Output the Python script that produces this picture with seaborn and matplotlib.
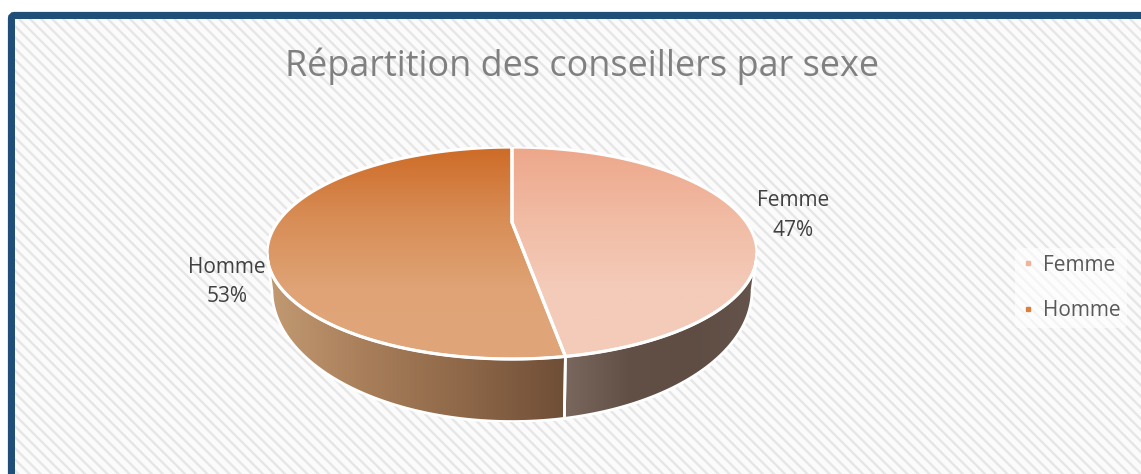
import numpy as np
import seaborn as sns
import matplotlib.pyplot as plt
from matplotlib.lines import Line2D
from matplotlib.patches import FancyBboxPatch, Polygon, Rectangle

# Chart data
categories = ["Femme", "Homme"]
shares = [47.4, 52.6]
chart_title = "Répartition des conseillers par sexe"

sns.set_theme(style="white")
plt.rcParams['font.family'] = ['Open Sans', 'DejaVu Sans']
plt.rcParams['hatch.linewidth'] = 1.7

W, H = 1141, 474
fig = plt.figure(figsize=(W / 100, H / 100), dpi=100, facecolor='white')

# Background axes works in image pixels
bg = fig.add_axes([0, 0, 1, 1])
bg.set_xlim(0, W)
bg.set_ylim(H, 0)
bg.axis('off')
bg.add_patch(FancyBboxPatch((11.5, 15.5), W + 40, H + 40, boxstyle="round,pad=0,rounding_size=3",
                            facecolor='white', edgecolor='#1F4E79', linewidth=5.2))
bg.add_patch(Rectangle((15, 19), W, H, facecolor='#fbfbfb', edgecolor='#e6e6e6', hatch='\\\\\\', linewidth=0))
bg.text(582, 66, chart_title, ha='center', va='center', fontsize=25.9, color='#808080')

# Pie axes: a non-equal aspect squashes the circle to the tilted ellipse
drop = 1.59
left, right, top, bottom = 267, 757, 147, 253 + 106 * drop
ax = fig.add_axes([left / W, 1 - bottom / H, (right - left) / W, (bottom - top) / H])
wedges, _ = ax.pie(shares, startangle=90, counterclock=False, radius=1)
ax.set_aspect('auto')
ax.axis('off')

top_maps = [sns.blend_palette(['#EDA78A', '#F1BBA4', '#F4CBB9', '#F4CBB9'], as_cmap=True),
            sns.blend_palette(['#CE6B27', '#D88D55', '#DFA376', '#E0A679'], as_cmap=True)]
side_maps = [sns.blend_palette(['#7A675D', '#625047', '#5F4D44', '#65544B'], as_cmap=True),
             sns.blend_palette(['#C29A72', '#A87E5A', '#8D6748', '#6F4E37'], as_cmap=True)]

grad_v = np.linspace(0, 1, 256).reshape(-1, 1)
grad_h = np.linspace(0, 1, 256).reshape(1, -1)

# Perspective tilt: the pie centre sits above the middle of the ellipse
tilt = 0.29


def project(x, y):
    d = 1 + tilt * y
    return x * np.sqrt(1 - tilt ** 2) / d, (y + tilt) / d


for i, w in enumerate(wedges):
    t = np.radians(np.linspace(w.theta1, w.theta2, 400))
    rim_x, rim_y = project(np.cos(t), np.sin(t))
    cx, cy = project(0.0, 0.0)

    # Top face
    face = Polygon(np.vstack([[cx, cy], np.column_stack([rim_x, rim_y])]), closed=True,
                   facecolor='none', edgecolor='white', linewidth=2.3, zorder=5)
    ax.add_patch(face)
    im = ax.imshow(grad_v, cmap=top_maps[i], extent=(-1, 1, -1, 1), origin='upper',
                   aspect='auto', zorder=2)
    im.set_clip_path(face)
    w.set_visible(False)

    # Visible wall below the rim of the wedge
    front = rim_y <= 0
    up_x, up_y = rim_x[front], rim_y[front]
    ang = np.arctan2(up_y, up_x)
    low_x = 0.98 * np.cos(ang)
    low_y = -0.35 + 1.24 * np.sin(ang)
    wall = Polygon(np.vstack([np.column_stack([up_x, up_y]),
                              np.column_stack([low_x, low_y])[::-1]]), closed=True,
                   facecolor='none', edgecolor='white', linewidth=2.0, zorder=4)
    ax.add_patch(wall)
    im2 = ax.imshow(grad_h, cmap=side_maps[i],
                    extent=(min(up_x.min(), low_x.min()), max(up_x.max(), low_x.max()), -drop, 0.1),
                    aspect='auto', zorder=1)
    im2.set_clip_path(wall)

ax.set_xlim(-1, 1)
ax.set_ylim(-drop, 1)

# Data labels
label_pos = [(793, 215.5), (227, 282)]
for name, share, (lx, ly) in zip(categories, shares, label_pos):
    bg.text(lx, ly, f"{name}\n{share:.0f}%", ha='center', va='center', fontsize=15,
            color='#404040', linespacing=1.56, zorder=10)

# Legend
handles = [Line2D([], [], linestyle='none', marker='s', markersize=3, color=c)
           for c in ['#F0B49B', '#D9803F']]
fig.legend(handles, categories, loc='center left', bbox_to_anchor=(1015 / W, 1 - 288 / H),
           frameon=True, facecolor='white', edgecolor='none', framealpha=0.6, fontsize=15,
           labelcolor='#595959', labelspacing=1.18, handlelength=0.6, handletextpad=0.45,
           borderpad=0.3, borderaxespad=0)

plt.savefig('out.png', dpi=100)
